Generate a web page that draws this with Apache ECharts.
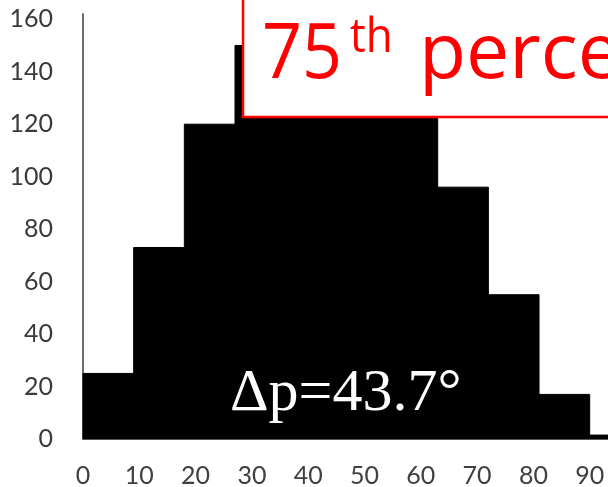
<!DOCTYPE html>
<html>
<head>
<meta charset="utf-8">
<script src="https://cdn.jsdelivr.net/npm/echarts@6/dist/echarts.min.js"></script>
<style>
  html, body { margin: 0; padding: 0; background: #ffffff; }
  #chart { width: 608px; height: 487px; }
</style>
</head>
<body>
<div id="chart"></div>
<script>
// Histogram of angular deviation (degrees), 9-degree bins
const binEdges = [0, 9, 18, 27, 36, 45, 54, 63, 72, 81, 90, 99];
const counts = [25, 73, 120, 150, 160, 152, 130, 96, 55, 17, 1.5];

// Tick labels
const xTickValues = [0, 10, 20, 30, 40, 50, 60, 70, 80, 90];
const yTickValues = [0, 20, 40, 60, 80, 100, 120, 140, 160];

// Annotation texts
const titleMain = '75';
const titleSup = 'th';
const titleRest = 'percentile';
const deltaText = 'Δp=43.7°';

const bins = counts.map((c, i) => [binEdges[i], binEdges[i + 1], c]);

const chart = echarts.init(document.getElementById('chart'), null, { renderer: 'canvas' });

const labelFont = 'Lato, "Open Sans", sans-serif';
const titleFont = '"Open Sans", Lato, sans-serif';

chart.setOption({
  animation: false,
  backgroundColor: '#ffffff',
  grid: {
    left: 83, top: 14, width: 563, height: 425,
    containLabel: false,
    outerBoundsMode: 'none'
  },
  xAxis: {
    type: 'value',
    min: 0,
    max: 100,
    interval: 10,
    splitLine: { show: false },
    axisTick: { show: false },
    axisLine: { show: true, lineStyle: { color: '#8c8c8c', width: 1.5 } },
    axisLabel: {
      show: true,
      showMaxLabel: false,
      hideOverlap: false,
      margin: 24,
      fontSize: 25,
      fontFamily: labelFont,
      color: '#404040',
      formatter: v => (xTickValues.indexOf(v) >= 0 ? String(v) : '')
    }
  },
  yAxis: {
    type: 'value',
    min: 0,
    max: 162,
    interval: 20,
    splitLine: { show: false },
    axisTick: { show: false },
    axisLine: { show: true, lineStyle: { color: '#6e6e6e', width: 2 } },
    axisLabel: {
      show: true,
      showMaxLabel: false,
      margin: 30,
      fontSize: 25,
      fontFamily: labelFont,
      color: '#3a3a3a',
      formatter: v => (yTickValues.indexOf(v) >= 0 ? String(v) : '')
    }
  },
  series: [{
    type: 'custom',
    data: bins,
    encode: { x: [0, 1], y: 2 },
    renderItem: function (params, api) {
      const topLeft = api.coord([api.value(0), api.value(2)]);
      const bottomRight = api.coord([api.value(1), 0]);
      return {
        type: 'rect',
        shape: {
          x: topLeft[0],
          y: topLeft[1],
          width: bottomRight[0] - topLeft[0],
          height: bottomRight[1] - topLeft[1]
        },
        style: { fill: '#000000', stroke: '#000000', lineWidth: 1 }
      };
    }
  }],
  graphic: [
    {
      type: 'rect',
      z: 100,
      shape: { x: 243, y: -10, width: 500, height: 127 },
      style: { fill: '#ffffff', stroke: '#ff0000', lineWidth: 2.5 }
    },
    {
      type: 'text',
      z: 101,
      x: 262, y: 56,
      scaleY: 1.1,
      style: {
        text: titleMain, x: 0, y: 0,
        fill: '#ff0000', fontSize: 70, fontFamily: titleFont,
        textAlign: 'left', textVerticalAlign: 'middle'
      }
    },
    {
      type: 'text',
      z: 101,
      x: 350, y: 38,
      scaleY: 1.1,
      style: {
        text: titleSup, x: 0, y: 0,
        fill: '#ff0000', fontSize: 44, fontFamily: titleFont,
        textAlign: 'left', textVerticalAlign: 'middle'
      }
    },
    {
      type: 'text',
      z: 101,
      x: 419, y: 56,
      scaleX: 1.1,
      scaleY: 1.1,
      style: {
        text: titleRest, x: 0, y: 0,
        fill: '#ff0000', fontSize: 70, fontFamily: titleFont,
        textAlign: 'left', textVerticalAlign: 'middle'
      }
    },
    {
      type: 'text',
      z: 101,
      style: {
        text: deltaText, x: 230, y: 394,
        fill: '#ffffff', fontSize: 60, fontFamily: '"Liberation Serif", serif',
        textAlign: 'left', textVerticalAlign: 'middle'
      }
    }
  ]
});
</script>
</body>
</html>
